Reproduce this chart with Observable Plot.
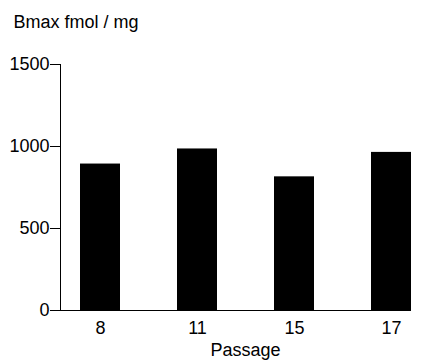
<!DOCTYPE html>
<html>
<head>
<meta charset="utf-8">
<script src="https://cdn.jsdelivr.net/npm/d3@7"></script>
<script src="https://cdn.jsdelivr.net/npm/@observablehq/plot@0.6"></script>
<style>
  html, body { margin: 0; padding: 0; background: #fff; }
</style>
</head>
<body>
<div id="chart"></div>
<script>
const passages = ["8", "11", "15", "17"];
const bmax = [893, 985, 815, 964];
const yTicks = [0, 500, 1000, 1500];
const yTitle = "Bmax fmol / mg";
const xTitle = "Passage";

const data = passages.map((p, i) => ({passage: p, bmax: bmax[i]}));

const chart = Plot.plot({
  width: 426,
  height: 360,
  marginTop: 64,
  marginBottom: 50,
  marginLeft: 60,
  marginRight: 15,
  style: {fontFamily: "Arial, 'Liberation Sans', sans-serif", fontSize: "18px", color: "black", background: "white"},
  x: {domain: passages, range: [79, 411], paddingInner: 0.589, paddingOuter: 0, label: null},
  y: {domain: [0, 1500], label: null},
  marks: [
    Plot.barY(data, {x: "passage", y: "bmax", fill: "black"}),
    Plot.frame({anchor: "left", stroke: "black"}),
    Plot.ruleY([0], {stroke: "black"}),
    Plot.axisY({ticks: yTicks, tickFormat: d => String(d), tickSize: 10, tickPadding: 1, label: null, fontSize: 18, stroke: "black"}),
    Plot.axisX({tickSize: 0, tickPadding: 11, label: null, fontSize: 18}),
    Plot.text([yTitle], {frameAnchor: "top-left", dx: -47, dy: -42, textAnchor: "start", lineAnchor: "middle", fontSize: 18, fill: "black"}),
    Plot.text([xTitle], {frameAnchor: "bottom", dx: 9.5, dy: 40, lineAnchor: "middle", fontSize: 18, fill: "black"})
  ]
});
document.getElementById("chart").appendChild(chart);
</script>
</body>
</html>
